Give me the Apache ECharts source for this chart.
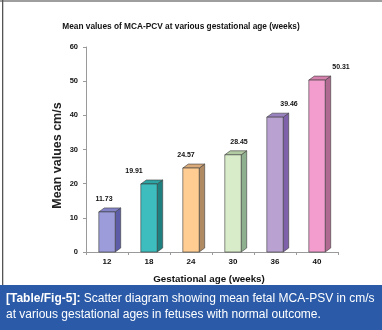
<!DOCTYPE html>
<html>
<head>
<meta charset="utf-8">
<script src="https://cdn.jsdelivr.net/npm/echarts@6/dist/echarts.min.js"></script>
<style>
html,body{margin:0;padding:0;background:#fff;}
#c{width:382px;height:330px;}
</style>
</head>
<body>
<div id="c"></div>
<script>
// ---- data ----
const categories = ['12', '18', '24', '30', '36', '40'];
const meanValues = [11.73, 19.91, 24.57, 28.45, 39.46, 50.31];
const valueLabels = ['11.73', '19.91', '24.57', '28.45', '39.46', '50.31'];
const yTicks = [0, 10, 20, 30, 40, 50, 60];

// ---- styling ----
const frontColors = ['#9c9cda', '#3dbdbd', '#ffcd92', '#d9ecc9', '#b9a2d2', '#f29dcd'];
const sideColors  = ['#5c5ca8', '#1f8080', '#b08a62', '#8fb08f', '#7f60aa', '#b06a92'];
const topColors   = ['#8383c8', '#2ea3a3', '#d9aa7a', '#b3cba3', '#9a82c0', '#d682ae'];
const labelDx = [-3, -15, -5, 6, 14, 24];

const chart = echarts.init(document.getElementById('c'), null, {renderer: 'canvas'});

const seriesData = categories.map((c, i) => [i, meanValues[i]]);

const option = {
  animation: false,
  backgroundColor: '#fff',
  title: {
    text: 'Mean values of MCA-PCV at various gestational age (weeks)',
    left: 176, top: 18, textAlign: 'center',
    textStyle: {fontFamily: 'Liberation Sans, Arial', fontWeight: 'bold', fontSize: 8.3, color: '#111'}
  },
  grid: {left: 86, right: 44, top: 47, bottom: 78},
  xAxis: {
    type: 'category',
    data: categories,
    boundaryGap: true,
    name: 'Gestational age (weeks)',
    nameLocation: 'middle',
    nameGap: 22,
    nameTextStyle: {fontFamily: 'Liberation Sans, Arial', fontWeight: 'bold', fontSize: 9.8, color: '#111', padding: [0, 6, 0, 0]},
    axisLine: {lineStyle: {color: '#9a9a9a', width: 1}},
    axisTick: {show: true, alignWithLabel: false, length: 3, lineStyle: {color: '#9a9a9a'}},
    axisLabel: {fontFamily: 'Liberation Sans, Arial', fontWeight: 'bold', fontSize: 8, color: '#111', margin: 6}
  },
  yAxis: {
    type: 'value',
    min: yTicks[0], max: yTicks[yTicks.length - 1], interval: yTicks[1] - yTicks[0],
    name: 'Mean values cm/s',
    nameLocation: 'middle',
    nameGap: 22,
    nameMoveOverlap: false,
    nameRotate: 90,
    nameTextStyle: {fontFamily: 'Liberation Sans, Arial', fontWeight: 'bold', fontSize: 12.5, color: '#222', padding: [0, 12, 0, 0]},
    axisLine: {show: true, lineStyle: {color: '#9a9a9a', width: 1}},
    axisTick: {show: true, length: 3, lineStyle: {color: '#9a9a9a'}},
    splitLine: {show: false},
    axisLabel: {fontFamily: 'Liberation Sans, Arial', fontWeight: 'bold', fontSize: 7.5, color: '#111', margin: 8}
  },
  series: [{
    type: 'custom',
    data: seriesData,
    renderItem: function (params, api) {
      const i = api.value(0);
      const v = api.value(1);
      const top = api.coord([i, v]);
      const base = api.coord([i, 0]);
      const band = api.size([1, 0])[0];
      const w = band * 0.39;
      const dx = 5.5, dy = 4;
      const x0 = top[0] - w / 2;
      const x1 = x0 + w;
      const yt = top[1], yb = base[1];
      const stroke = {stroke: '#3a3a3a', lineWidth: 0.6};
      return {
        type: 'group',
        children: [
          {type: 'polygon', shape: {points: [[x1, yt], [x1 + dx, yt - dy], [x1 + dx, yb - dy], [x1, yb]]},
           style: Object.assign({fill: sideColors[i]}, stroke)},
          {type: 'polygon', shape: {points: [[x0, yt], [x0 + dx, yt - dy], [x1 + dx, yt - dy], [x1, yt]]},
           style: Object.assign({fill: topColors[i]}, stroke)},
          {type: 'rect', shape: {x: x0, y: yt, width: w, height: yb - yt},
           style: Object.assign({fill: frontColors[i]}, stroke)},
          {type: 'text', x: top[0] + labelDx[i], y: yt - 13,
           style: {text: valueLabels[i], fill: '#111', font: 'bold 7px "Liberation Sans", Arial', align: 'center', verticalAlign: 'middle'}}
        ]
      };
    }
  }],
  graphic: [
    {type: 'rect', left: 0, top: 0, shape: {width: 382, height: 2}, style: {fill: '#9e9e9e'}, silent: true},
    {type: 'rect', left: 2, top: 0, shape: {width: 1.3, height: 286}, style: {fill: '#555'}, silent: true},
    {type: 'rect', left: 0, top: 285, shape: {width: 382, height: 45}, style: {fill: '#2b5ba8'}, silent: true},
    {type: 'text', left: 6, top: 290,
     style: {
       text: '{b|[Table/Fig-5]:} Scatter diagram showing mean fetal MCA-PSV in cm/s\nat various gestational ages in fetuses with normal outcome.',
       rich: {b: {fontWeight: 'bold', fontSize: 12, fill: '#fff', fontFamily: 'Liberation Sans, Arial'}},
       fill: '#fff', fontSize: 12, fontFamily: 'Liberation Sans, Arial', lineHeight: 16.5
     }, silent: true}
  ]
};
chart.setOption(option);
</script>
</body>
</html>
